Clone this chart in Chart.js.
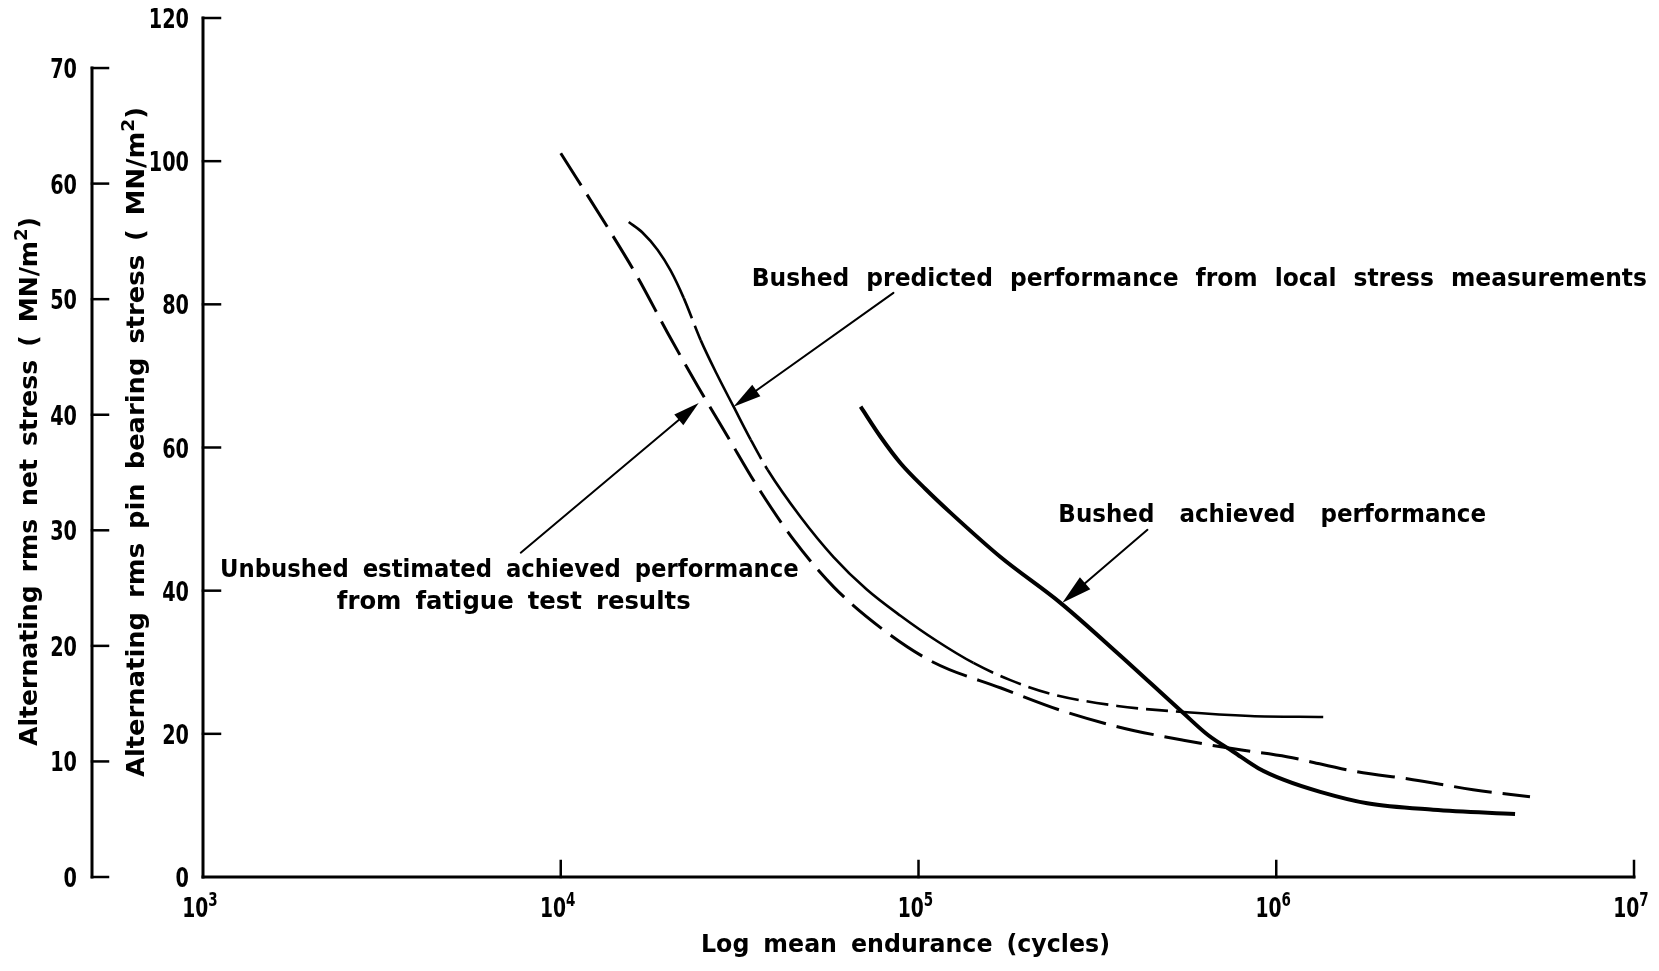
<!DOCTYPE html>
<html>
<head>
<meta charset="utf-8">
<title>Fatigue endurance of bushed and unbushed lugs</title>
<script src="https://cdn.jsdelivr.net/npm/chart.js@4/dist/chart.umd.min.js"></script>
<style>
  html, body { margin: 0; padding: 0; background: #fff; overflow: hidden; }
  canvas { display: block; }
</style>
</head>
<body>
<canvas id="chart" width="1659" height="971"></canvas>
<script>
// ---- Curves: endurance (cycles) against alternating rms pin bearing stress (MN/m²) ----
const unbushedCycles = [10000, 13500, 16400, 19900, 24200, 29300, 35500, 44800, 58000, 79900, 110000,
                        170000, 249000, 360000, 550000, 809000, 1070000, 1640000, 2410000, 3550000, 5120000];
const unbushedStress = [101.1, 90.8, 83.8, 76.0, 68.5, 61.5, 54.5, 47.1, 40.5, 34.5, 30.0,
                        26.4, 23.3, 21.0, 19.1, 17.7, 16.8, 14.8, 13.6, 12.2, 11.2];

const predictedCycles = [15490, 16940, 18660, 20290, 22060, 24610, 27280, 30420, 33950, 37860, 46820,
                         57890, 71550, 89060, 112300, 142400, 180700, 233800, 359700, 549900, 846000, 1353000];
const predictedStress = [91.5, 90.0, 87.6, 84.7, 80.9, 75.0, 70.3, 65.7, 61.1, 56.9, 50.3,
                         44.7, 40.2, 36.5, 33.0, 29.9, 27.5, 25.6, 23.9, 23.05, 22.5, 22.35];

const achievedCycles = [68900, 78300, 89100, 104600, 122800, 169500, 249300, 359700, 549900, 645800,
                        758600, 890600, 1047000, 1327000, 1796000, 2745000, 4651000];
const achievedStress = [65.7, 61.5, 57.8, 54.2, 50.9, 44.7, 38.3, 31.3, 22.9, 19.8,
                        17.5, 15.2, 13.6, 11.9, 10.3, 9.4, 8.8];

// ---- Tick labels ----
const enduranceExponents = [3, 4, 5, 6, 7];
const bearingStressTicks = [0, 20, 40, 60, 80, 100, 120];
const netStressTicks = [0, 10, 20, 30, 40, 50, 60, 70];

// ---- Axis titles ----
const xTitle = 'Log mean endurance (cycles)';
const bearingTitle = 'Alternating rms pin bearing stress ( MN/m^2)';
const netTitle = 'Alternating rms net stress ( MN/m^2)';

// ---- Callout labels (anchored in data units: cycles, bearing stress) ----
const callouts = [
  { text: 'Bushed predicted performance from local stress measurements', at: [34170, 82.6], end: 10870000, gap: 17 },
  { text: 'Bushed achieved performance', at: [246000, 49.6], end: 3860000, gap: 25 },
  { text: 'Unbushed estimated achieved performance', at: [1116, 41.9], end: 46240, gap: 14 },
  { text: 'from fatigue test results', at: [2366, 37.4], end: 23070, gap: 14 }
];
const arrows = [
  { from: [85100, 81.6], to: [30400, 65.7], head: 28, half: 7 },
  { from: [7730, 45.3], to: [24300, 66.2], head: 26, half: 7 },
  { from: [436500, 48.5], to: [252400, 38.3], head: 30, half: 8 }
];

const toPoints = (xs, ys) => xs.map((v, i) => ({ x: v, y: ys[i] }));

// segments of the predicted curve that are broken into dashes
const predictedDashed = [4, 8, 15, 16, 17, 18];

const FONT = '"DejaVu Sans", "Liberation Sans", sans-serif';

// split a word into plain and superscript pieces ('^' raises the next character)
function pieces(word) {
  const out = [];
  let buf = '';
  for (let i = 0; i < word.length; i++) {
    if (word[i] === '^' && i + 1 < word.length) {
      if (buf) { out.push({ t: buf, sup: false }); buf = ''; }
      out.push({ t: word[i + 1], sup: true });
      i++;
    } else buf += word[i];
  }
  if (buf) out.push({ t: buf, sup: false });
  return out;
}

// draw text word by word with a horizontal squeeze, optionally fitted to a width
function drawText(ctx, text, x, y, o) {
  const size = o.size || 24;
  const supSize = size * 0.72;
  const gap = o.gap || 0;
  const words = text.split(' ').filter(w => w.length);
  const fontFor = s => `bold ${s}px ${FONT}`;
  const parsed = words.map(pieces);
  const widths = parsed.map(ps => ps.reduce((acc, p) => {
    ctx.font = fontFor(p.sup ? supSize : size);
    return acc + ctx.measureText(p.t).width;
  }, 0));
  const ink = widths.reduce((a, b) => a + b, 0);
  const sx = o.width ? (o.width - gap * (words.length - 1)) / ink : (o.squeeze || 0.74);
  const total = ink * sx + gap * (words.length - 1);
  ctx.save();
  ctx.translate(x, y);
  if (o.angle) ctx.rotate(o.angle);
  ctx.fillStyle = '#000';
  ctx.textBaseline = 'alphabetic';
  ctx.textAlign = 'left';
  let cx = o.align === 'center' ? -total / 2 : o.align === 'right' ? -total : 0;
  parsed.forEach((ps, wi) => {
    ps.forEach(p => {
      const s = p.sup ? supSize : size;
      ctx.font = fontFor(s);
      const w = ctx.measureText(p.t).width;
      ctx.save();
      ctx.translate(cx, p.sup ? -size * 0.42 : 0);
      ctx.scale(sx, 1);
      ctx.fillText(p.t, 0, 0);
      ctx.restore();
      cx += w * sx;
    });
    if (wi < parsed.length - 1) cx += gap;
  });
  ctx.restore();
}

const framePlugin = {
  id: 'frame',
  beforeDraw(chart) {
    const { ctx, width, height } = chart;
    ctx.save();
    ctx.fillStyle = '#fff';
    ctx.fillRect(0, 0, width, height);
    ctx.restore();
  },
  afterDraw(chart) {
    const { ctx } = chart;
    const { x, y, yNet } = chart.scales;
    const axisX = x.getPixelForValue(1e3);
    const baseY = y.getPixelForValue(0);
    const netAxisX = 92;
    const tick = 17;

    ctx.save();
    ctx.strokeStyle = '#000';
    ctx.lineCap = 'square';

    // pin bearing stress axis
    ctx.lineWidth = 3;
    ctx.beginPath();
    ctx.moveTo(axisX, baseY);
    ctx.lineTo(axisX, y.getPixelForValue(120));
    ctx.stroke();
    ctx.lineWidth = 2.5;
    bearingStressTicks.forEach(v => {
      if (v === 0) return;
      const py = y.getPixelForValue(v);
      ctx.beginPath();
      ctx.moveTo(axisX, py);
      ctx.lineTo(axisX + tick, py);
      ctx.stroke();
    });

    // net stress axis
    ctx.lineWidth = 3;
    ctx.beginPath();
    ctx.moveTo(netAxisX, yNet.getPixelForValue(0));
    ctx.lineTo(netAxisX, yNet.getPixelForValue(70));
    ctx.stroke();
    ctx.lineWidth = 2.5;
    netStressTicks.forEach(v => {
      const py = yNet.getPixelForValue(v);
      ctx.beginPath();
      ctx.moveTo(netAxisX, py);
      ctx.lineTo(netAxisX + tick - 1, py);
      ctx.stroke();
    });

    // endurance axis
    ctx.lineWidth = 3;
    ctx.beginPath();
    ctx.moveTo(axisX, baseY);
    ctx.lineTo(x.getPixelForValue(1e7), baseY);
    ctx.stroke();
    ctx.lineWidth = 2.5;
    enduranceExponents.forEach(e => {
      if (e === 3) return;
      const px = x.getPixelForValue(Math.pow(10, e));
      ctx.beginPath();
      ctx.moveTo(px, baseY);
      ctx.lineTo(px, baseY - 16);
      ctx.stroke();
    });

    // tick labels
    bearingStressTicks.forEach(v => {
      drawText(ctx, String(v), axisX - 14, y.getPixelForValue(v) + 10, { size: 26, align: 'right', squeeze: 0.74 });
    });
    netStressTicks.forEach(v => {
      drawText(ctx, String(v), netAxisX - 15, yNet.getPixelForValue(v) + 10, { size: 26, align: 'right', squeeze: 0.74 });
    });
    enduranceExponents.forEach(e => {
      const px = x.getPixelForValue(Math.pow(10, e));
      drawText(ctx, '10^' + e, px - 3, baseY + 40, { size: 26, align: 'center', squeeze: 0.72 });
    });

    // axis titles
    drawText(ctx, xTitle, 701, 952, { size: 24, width: 409, gap: 14 });
    drawText(ctx, netTitle, 37, 746, { size: 25, width: 529, gap: 13, angle: -Math.PI / 2 });
    drawText(ctx, bearingTitle, 144, 777, { size: 25, width: 670, gap: 14, angle: -Math.PI / 2 });

    // callout text
    callouts.forEach(c => {
      const left = x.getPixelForValue(c.at[0]);
      const right = x.getPixelForValue(c.end);
      drawText(ctx, c.text, left, y.getPixelForValue(c.at[1]), { size: 24, width: right - left, gap: c.gap });
    });

    // callout arrows
    ctx.lineWidth = 2;
    ctx.lineCap = 'round';
    ctx.fillStyle = '#000';
    arrows.forEach(a => {
      const x1 = x.getPixelForValue(a.from[0]), y1 = y.getPixelForValue(a.from[1]);
      const x2 = x.getPixelForValue(a.to[0]), y2 = y.getPixelForValue(a.to[1]);
      const len = Math.hypot(x2 - x1, y2 - y1);
      const ux = (x2 - x1) / len, uy = (y2 - y1) / len;
      ctx.beginPath();
      ctx.moveTo(x1, y1);
      ctx.lineTo(x2 - ux * a.head * 0.6, y2 - uy * a.head * 0.6);
      ctx.stroke();
      const bx = x2 - ux * a.head, by = y2 - uy * a.head;
      ctx.beginPath();
      ctx.moveTo(x2, y2);
      ctx.lineTo(bx - uy * a.half, by + ux * a.half);
      ctx.lineTo(bx + uy * a.half, by - ux * a.half);
      ctx.closePath();
      ctx.fill();
    });
    ctx.restore();
  }
};

new Chart(document.getElementById('chart'), {
  type: 'line',
  data: {
    datasets: [
      {
        label: 'Unbushed estimated achieved performance from fatigue test results',
        data: toPoints(unbushedCycles, unbushedStress),
        borderColor: '#000',
        borderWidth: 3,
        borderDash: [38, 11],
        cubicInterpolationMode: 'monotone'
      },
      {
        label: 'Bushed predicted performance from local stress measurements',
        data: toPoints(predictedCycles, predictedStress),
        borderColor: '#000',
        borderWidth: 2.6,
        cubicInterpolationMode: 'monotone',
        segment: {
          borderDash: c => predictedDashed.includes(c.p0DataIndex) ? [22, 8] : undefined
        }
      },
      {
        label: 'Bushed achieved performance',
        data: toPoints(achievedCycles, achievedStress),
        borderColor: '#000',
        borderWidth: 4,
        cubicInterpolationMode: 'monotone'
      }
    ]
  },
  options: {
    responsive: false,
    devicePixelRatio: 1,
    animation: false,
    events: [],
    layout: { padding: { left: 203, right: 25, top: 18, bottom: 94 } },
    elements: {
      point: { radius: 0 },
      line: { fill: false, borderCapStyle: 'butt', borderJoinStyle: 'round' }
    },
    plugins: { legend: { display: false }, tooltip: { enabled: false } },
    scales: {
      x: { type: 'logarithmic', min: 1e3, max: 1e7, display: false },
      y: { type: 'linear', min: 0, max: 120, display: false },
      yNet: { type: 'linear', min: 0, max: 74.33, display: false }
    }
  },
  plugins: [framePlugin]
});
</script>
</body>
</html>
